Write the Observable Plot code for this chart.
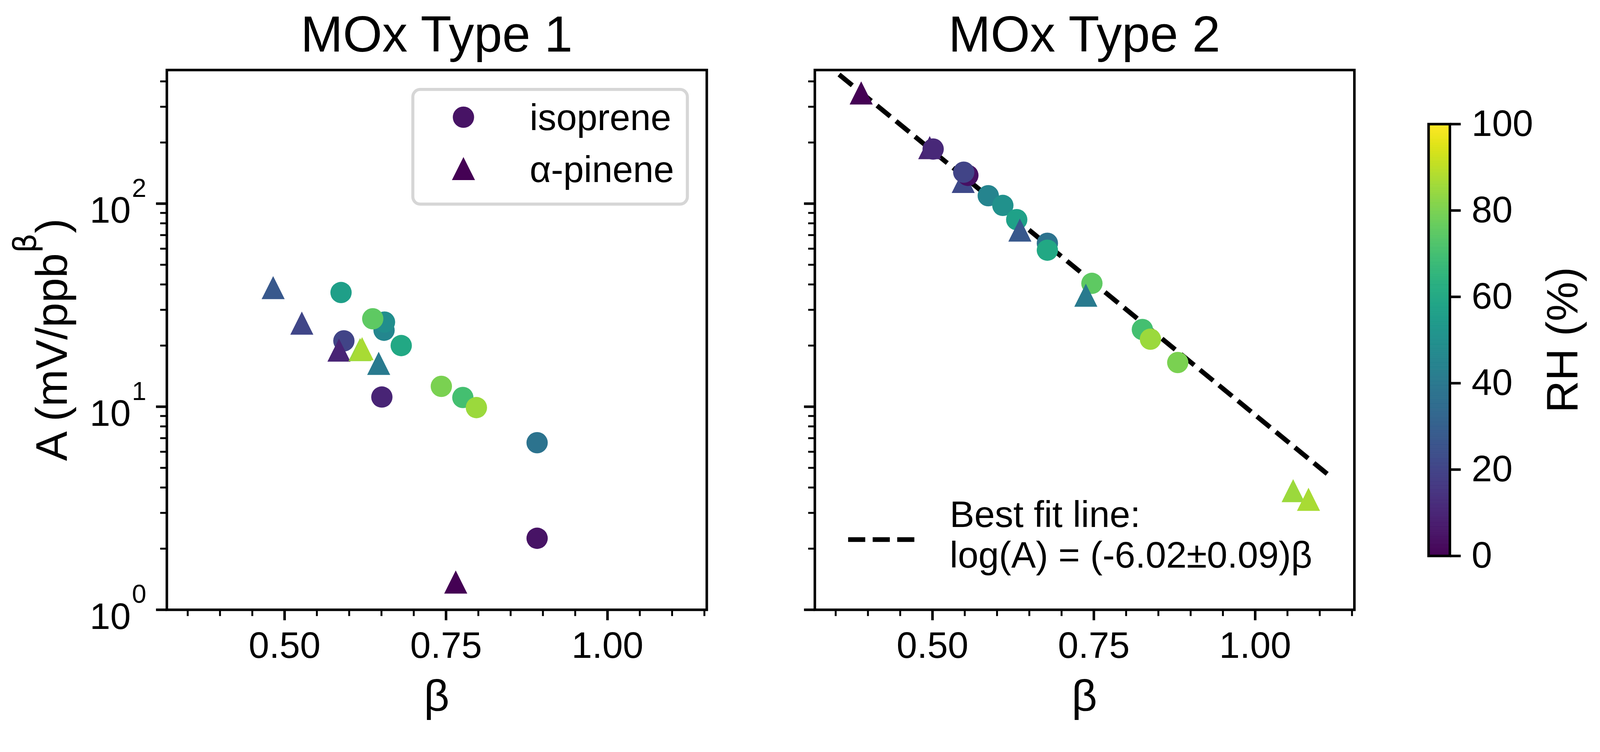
<!DOCTYPE html>
<html>
<head>
<meta charset="utf-8">
<script src="https://cdn.jsdelivr.net/npm/d3@7"></script>
<script src="https://cdn.jsdelivr.net/npm/@observablehq/plot@0.6"></script>
<style>
  html, body { margin: 0; padding: 0; background: #fff; overflow: hidden; }
  #fig { position: relative; width: 4205px; height: 1925px; background: #fff; overflow: hidden; transform-origin: 0 0; }
  #fig svg { position: absolute; left: 0; top: 0; }
</style>
</head>
<body>
<div id="fig"></div>
<script>
// ---------------- DATA ----------------
const panelTitles = ["MOx Type 1", "MOx Type 2"];
const compounds = ["isoprene", "α-pinene"];
const xLabel = "β";
const cbLabel = "RH (%)";
const fitLegend = ["Best fit line:", "log(A) = (-6.02±0.09)β"];

// MOx Type 1 (drawing order)
const t1Kind = ["isoprene","isoprene","isoprene","isoprene","isoprene","isoprene","isoprene","isoprene","isoprene","isoprene","isoprene","isoprene",
                "α-pinene","α-pinene","α-pinene","α-pinene","α-pinene","α-pinene","α-pinene"];
const t1Beta = [0.891, 0.654, 0.6547, 0.6365, 0.5874, 0.5918, 0.6806, 0.6506, 0.7427, 0.776, 0.797, 0.891,
                0.765, 0.4823, 0.5267, 0.5842, 0.6168, 0.620, 0.6457];
const t1A    = [2.25, 23.8, 26.1, 27.1, 36.5, 21.1, 20.0, 11.16, 12.6, 11.1, 9.9, 6.65,
                1.37, 38.6, 25.8, 19.0, 19.1, 19.3, 16.35];
const t1RH   = [5, 46, 49, 75, 56, 20, 60, 10, 80, 70, 85, 38,
                0, 27, 21, 10, 85, 87, 41];

// MOx Type 2 (drawing order)
const t2Kind = ["α-pinene","α-pinene","α-pinene",
                "isoprene","isoprene","isoprene","isoprene","isoprene","isoprene","isoprene","isoprene","isoprene","isoprene","isoprene","isoprene",
                "α-pinene","α-pinene","α-pinene","α-pinene"];
const t2Beta = [0.3895, 0.4957, 0.5476,
                0.501, 0.5548, 0.5484, 0.5864, 0.609, 0.6305, 0.678, 0.678, 0.747, 0.8252, 0.8377, 0.88,
                0.6354, 0.7376, 1.0588, 1.0826];
const t2A    = [350.9, 188.7, 128.6,
                185.7, 137.8, 142.9, 109.4, 98.0, 83.4, 63.8, 59.0, 40.5, 24.0, 21.5, 16.5,
                74.1, 35.4, 3.86, 3.50];
const t2RH   = [0, 10, 22,
                11, 4, 20, 45, 50, 57, 38, 60, 75, 70, 85, 80,
                27, 41, 85, 87];

// Best fit line (MOx Type 2)
const fitBeta = [0.3552, 1.1188];
const fitA    = [432.5, 4.47];

// Axes
const xDomain = [0.3177, 1.1537];
const yDomain = [1, 455];
const xMajor = [0.5, 0.75, 1.0];
const xMinor = [0.35, 0.40, 0.45, 0.55, 0.60, 0.65, 0.70, 0.80, 0.85, 0.90, 0.95, 1.05, 1.10, 1.15];
const yMajor = [1, 10, 100];
const yMinor = [2,3,4,5,6,7,8,9,20,30,40,50,60,70,80,90,200,300,400];
const rhDomain = [0, 100];
const rhTicks = [0, 20, 40, 60, 80, 100];

// ---------------- LAYOUT ----------------
const W = 4205, H = 1925;
const FONT = '"Liberation Sans", Arial, Helvetica, sans-serif';
const frames = [{x0: 438, x1: 1857}, {x0: 2141, x1: 3559}];
const fy0 = 183.5, fy1 = 1602;
const cbFrame = {x0: 3754, x1: 3810, y0: 325.7, y1: 1460.5};
const TICK = 97, LABEL = 117, TITLE = 133;

// fit the fixed-size figure into the actual viewport
{
  const s = Math.min(window.innerWidth / W, window.innerHeight / H);
  if (s > 0 && Math.abs(s - 1) > 0.001) document.getElementById("fig").style.transform = `scale(${s})`;
}

const triangle = {
  draw(ctx, size) {
    const h = Math.sqrt(size / Math.PI) * 1.084;
    ctx.moveTo(0, -h); ctx.lineTo(h, h); ctx.lineTo(-h, h); ctx.closePath();
  }
};

function rowsOf(kind, beta, A, rh) {
  return kind.map((k, i) => ({kind: k, beta: beta[i], A: A[i], rh: rh[i]}));
}
function runs(rows) {
  const out = [];
  for (const r of rows) {
    if (out.length && out[out.length - 1][0].kind === r.kind) out[out.length - 1].push(r);
    else out.push([r]);
  }
  return out;
}
const colorOpts = {type: "linear", scheme: "viridis", domain: rhDomain};
const baseStyle = {background: "transparent", color: "black", fontFamily: FONT, overflow: "visible", maxWidth: "none"};

function panel(i, rows, showYLabels, extra) {
  const f = frames[i];
  return Plot.plot({
    width: W, height: H,
    marginLeft: f.x0, marginRight: W - f.x1, marginTop: fy0, marginBottom: H - fy1,
    style: baseStyle,
    x: {domain: xDomain},
    y: {type: "log", domain: yDomain},
    color: colorOpts,
    marks: [
      ...extra,
      ...runs(rows).map(g => Plot.dot(g, {
        x: "beta", y: "A", fill: "rh", r: 28,
        symbol: g[0].kind === compounds[0] ? "circle" : triangle
      })),
      Plot.frame({stroke: "black", strokeWidth: 6.7}),
      Plot.axisX({ticks: xMajor, tickSize: 28, tickPadding: 29, strokeWidth: 6.7, fontSize: TICK,
                  tickFormat: d3.format(".2f"), label: null}),
      Plot.axisX({ticks: xMinor, tickSize: 17, strokeWidth: 5, tickFormat: () => "", label: null}),
      Plot.axisY({ticks: yMajor, tickSize: 28, tickPadding: 26, strokeWidth: 6.7, fontSize: TICK,
                  tickFormat: showYLabels ? (d => String(Math.round(Math.log10(d)))) : () => "", label: null}),
      Plot.axisY({ticks: yMinor, tickSize: 17, strokeWidth: 5, tickFormat: () => "", label: null})
    ]
  });
}

function addText(sel, x, y, str, size, anchor) {
  return sel.append("text").attr("x", x).attr("y", y).attr("text-anchor", anchor)
    .attr("font-size", size).attr("font-family", FONT).attr("fill", "black").text(str);
}

const fig = d3.select("#fig");

// ---- Panel 1 ----
const rows1 = rowsOf(t1Kind, t1Beta, t1A, t1RH);
const p1 = panel(0, rows1, true, []);
fig.node().appendChild(p1);
const s1 = d3.select(p1);
// superscript exponents on y tick labels
s1.selectAll('g[aria-label="y-axis tick label"] text').each(function() {
  const e = this.textContent;
  if (!e) return;
  const t = d3.select(this);
  t.text("10").attr("y", 50).attr("dy", null);
  t.append("tspan").attr("dx", 3).attr("dy", -68).attr("font-size", 68).text(e);
});

// ---- Panel 2 ----
const rows2 = rowsOf(t2Kind, t2Beta, t2A, t2RH);
const fitRows = fitBeta.map((b, i) => ({beta: b, A: fitA[i]}));
const p2 = panel(1, rows2, false, [
  Plot.line(fitRows, {x: "beta", y: "A", stroke: "black", strokeWidth: 12.5,
                      strokeDasharray: "45,19.5", strokeLinecap: "butt"})
]);
fig.node().appendChild(p2);
const s2 = d3.select(p2);

const color = p1.scale("color");

// titles and x labels
[s1, s2].forEach((s, i) => {
  const cx = (frames[i].x0 + frames[i].x1) / 2;
  addText(s, cx, 135, panelTitles[i], TITLE, "middle");
  addText(s, cx, 1868, xLabel, LABEL, "middle");
});

// y label
{
  const t = s1.append("text").attr("transform", `translate(175.5,${(fy0 + fy1) / 2}) rotate(-90)`)
    .attr("text-anchor", "middle").attr("font-size", LABEL).attr("font-family", FONT).attr("fill", "black");
  t.append("tspan").text("A (mV/ppb");
  t.append("tspan").attr("dy", -81).attr("font-size", 82).attr("font-family", '"DejaVu Sans", sans-serif').text("β");
  t.append("tspan").attr("dy", 81).text(")");
}

// legend panel 1
{
  const g = s1.append("g");
  g.append("rect").attr("x", 1085).attr("y", 235).attr("width", 721.5).attr("height", 301.4)
    .attr("rx", 19.4).attr("fill", "white").attr("fill-opacity", 0.8)
    .attr("stroke", "#cccccc").attr("stroke-opacity", 0.8).attr("stroke-width", 8);
  const first = k => rows1.find(r => r.kind === k).rh;
  g.append("circle").attr("cx", 1218).attr("cy", 308).attr("r", 28).attr("fill", color.apply(first(compounds[0])));
  const h = 28 * 1.084;
  g.append("path").attr("transform", "translate(1218,443)")
    .attr("d", `M0,${-h}L${h},${h}L${-h},${h}Z`).attr("fill", color.apply(first(compounds[1])));
  addText(g, 1392, 341.4, compounds[0], TICK, "start");
  addText(g, 1392, 478.2, compounds[1], TICK, "start");
}

// legend panel 2
{
  const g = s2.append("g");
  g.append("line").attr("x1", 2229).attr("x2", 2422.5).attr("y1", 1418).attr("y2", 1418)
    .attr("stroke", "black").attr("stroke-width", 12.5).attr("stroke-dasharray", "45,19.5");
  addText(g, 2496, 1384.5, fitLegend[0], TICK, "start");
  addText(g, 2496, 1491.6, fitLegend[1], TICK, "start");
}

// ---- Colorbar ----
const cbStep = 0.25;
const cbRows = d3.range(rhDomain[0], rhDomain[1], cbStep).map(v => ({lo: v, hi: v + cbStep, mid: v + cbStep / 2}));
const cb = Plot.plot({
  width: W, height: H,
  marginLeft: cbFrame.x0, marginRight: W - cbFrame.x1, marginTop: cbFrame.y0, marginBottom: H - cbFrame.y1,
  style: baseStyle,
  y: {domain: rhDomain},
  color: colorOpts,
  marks: [
    Plot.rect(cbRows, {y1: "lo", y2: "hi", fill: "mid", stroke: "mid", strokeWidth: 0.6}),
    Plot.frame({stroke: "black", strokeWidth: 6.7}),
    Plot.axisY({anchor: "right", ticks: rhTicks, tickSize: 28, tickPadding: 29, strokeWidth: 6.7,
                fontSize: TICK, tickFormat: d => String(d), label: null})
  ]
});
fig.node().appendChild(cb);
const tr = d3.select(cb).append("text")
  .attr("transform", `translate(4145,${(cbFrame.y0 + cbFrame.y1) / 2}) rotate(-90)`)
  .attr("text-anchor", "middle").attr("font-size", LABEL).attr("font-family", FONT).attr("fill", "black")
  .text(cbLabel);
</script>
</body>
</html>
